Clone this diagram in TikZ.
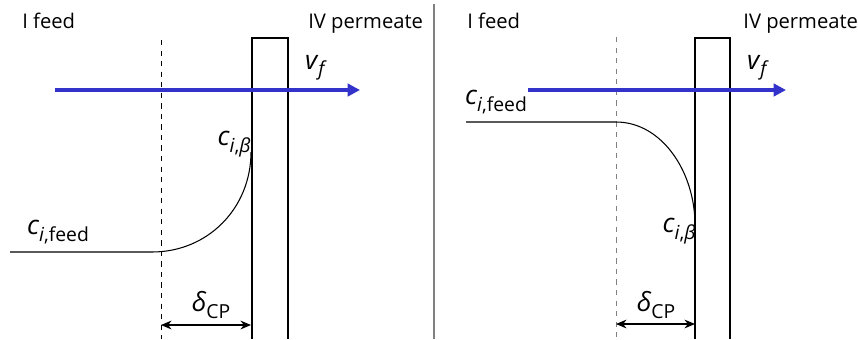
\documentclass[tikz,border=0pt]{standalone}
\usepackage{fontspec}
\setmainfont{Open Sans}
\usepackage{xcolor}
\definecolor{fluxblue}{rgb}{0.2, 0.2, 0.8}
\usetikzlibrary{positioning,arrows.meta}
\newcommand{\lowidx}[1]{\raisebox{-0.45ex}{\fontsize{11}{12}\selectfont #1}}

\begin{document}
\begin{tikzpicture}[x=0.02cm, y=-0.02cm, >={Stealth[length=6pt,width=5pt]},
  membrane/.style = {draw, line width=0.9pt},
  boundary/.style = {draw, dashed, line width=0.5pt},
  flux/.style = {->, draw=fluxblue, line width=1.8pt, >={Triangle[length=7pt,width=7pt]}},
  profile/.style = {draw, line width=0.6pt},
  region/.style = {inner sep=0pt, anchor=base west, font=\fontsize{11.5}{13}\selectfont},
  conc/.style = {inner sep=0pt, font=\fontsize{15}{17}\selectfont}]

\useasboundingbox (0,0) rectangle (858,339);

% left panel
\node[region] (feedL) at (22,28) {I feed};
\node[region] (permL) at (308,28) {IV permeate};

\coordinate (mL1) at (252,339);
\coordinate (mL2) at (288,339);
\path[membrane] (mL1) |- (270,38) -| (mL2);
\coordinate (dL1) at (161,40);
\coordinate (dL2) at (161,339);
\path[boundary] (dL1) -- (dL2);

\coordinate (fL1) at (55,90);
\coordinate (fL2) at (360,90);
\path[flux] (fL1) -- (fL2);
\node[conc] (vL) at (316,68) {\textit{v}\lowidx{\textit{f}}};

\coordinate (cL0) at (10,252);
\coordinate (cL1) at (152,252);
\coordinate (cL2) at (251,152);
\path[profile] (cL0) -- (cL1) .. controls (208,252) and (251,208) .. (cL2);
\node[conc] (cfeedL) at (58,232) {\textit{c}\lowidx{\textit{i},feed}};
\node[conc] (cbetaL) at (234,144) {\textit{c}\lowidx{\textit{i},\textit{β}}};

\coordinate (aL1) at (161,325);
\coordinate (aL2) at (251,325);
\draw[<->, line width=0.6pt] (aL1) -- (aL2);
\node[conc] (deltaL) at (211,305) {\textit{δ}\lowidx{CP}};

% separator
\coordinate (s1) at (434,4);
\coordinate (s2) at (434,339);
\draw[gray, line width=0.7pt] (s1) -- (s2);

% right panel
\node[region] (feedR) at (467,28) {I feed};
\node[region] (permR) at (743,28) {IV permeate};

\coordinate (mR1) at (695,339);
\coordinate (mR2) at (730,339);
\path[membrane, line width=0.6pt] (mR1) |- (712,38) -| (mR2);
\coordinate (dR1) at (616,37);
\coordinate (dR2) at (616,339);
\path[boundary, gray] (dR1) -- (dR2);

\coordinate (fR1) at (528,90);
\coordinate (fR2) at (786,90);
\path[flux] (fR1) -- (fR2);
\node[conc] (vR) at (758,68) {\textit{v}\lowidx{\textit{f}}};

\coordinate (cR0) at (466,122);
\coordinate (cR1) at (616,122);
\coordinate (cR2) at (695,225);
\path[profile] (cR0) -- (cR1) .. controls (662,122) and (695,172) .. (cR2);
\node[conc] (cfeedR) at (496,102) {\textit{c}\lowidx{\textit{i},feed}};
\node[conc] (cbetaR) at (679,231) {\textit{c}\lowidx{\textit{i},\textit{β}}};

\coordinate (aR1) at (616,324);
\coordinate (aR2) at (695,324);
\draw[<->, line width=0.6pt] (aR1) -- (aR2);
\node[conc] (deltaR) at (656,305) {\textit{δ}\lowidx{CP}};
\end{tikzpicture}
\end{document}
